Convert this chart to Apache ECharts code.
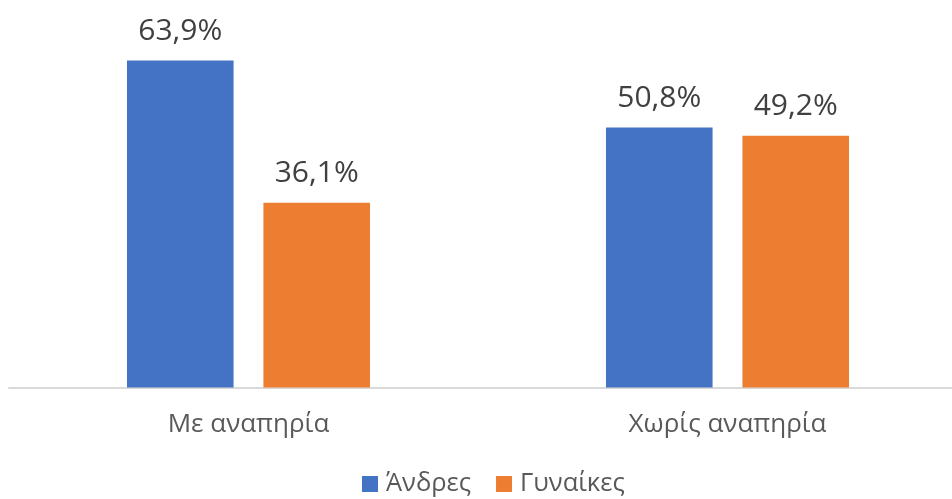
<!DOCTYPE html>
<html><head><meta charset="utf-8">
<script src="https://cdn.jsdelivr.net/npm/echarts@6/dist/echarts.min.js"></script>
<style>html,body{margin:0;padding:0;background:#fff}#c{width:952px;height:499px}</style>
</head><body><div id="c"></div>
<script>
const categories = ['Με αναπηρία', 'Χωρίς αναπηρία'];
const seriesNames = ['Άνδρες', 'Γυναίκες'];
const men = [63.9, 50.8];
const women = [36.1, 49.2];
const colors = ['#4472C4', '#ED7D31'];

const chart = echarts.init(document.getElementById('c'));
const font = '"Open Sans", sans-serif';
const fmt = p => p.value.toFixed(1).replace('.', ',') + '%';
chart.setOption({
  animation: false,
  backgroundColor: '#ffffff',
  textStyle: { fontFamily: font },
  grid: { left: 9, width: 958, top: 29.3, height: 358.2, containLabel: false, outerBoundsMode: 'none' },
  legend: {
    top: 466, left: 357,
    itemWidth: 16, itemHeight: 16, itemGap: 25,
    icon: 'rect',
    textStyle: { fontFamily: font, fontSize: 25.5, color: '#595959', padding: [0, 0, 0, 3] },
    data: seriesNames
  },
  xAxis: {
    type: 'category', data: categories,
    axisLine: { lineStyle: { color: '#D9D9D9', width: 2 } },
    axisTick: { show: false },
    axisLabel: { fontFamily: font, fontSize: 26, color: '#595959', margin: 24 }
  },
  yAxis: { type: 'value', min: 0, max: 70, show: false, splitLine: { show: false } },
  series: [
    { name: seriesNames[0], type: 'bar', data: men, barWidth: 106.6, barGap: '28%',
      itemStyle: { color: colors[0] },
      label: { show: true, position: 'top', distance: 14, formatter: fmt, fontFamily: font, fontSize: 30, color: '#404040' } },
    { name: seriesNames[1], type: 'bar', data: women, barWidth: 106.6, barGap: '28%',
      itemStyle: { color: colors[1] },
      label: { show: true, position: 'top', distance: 14, formatter: fmt, fontFamily: font, fontSize: 30, color: '#404040' } }
  ]
});
</script></body></html>
